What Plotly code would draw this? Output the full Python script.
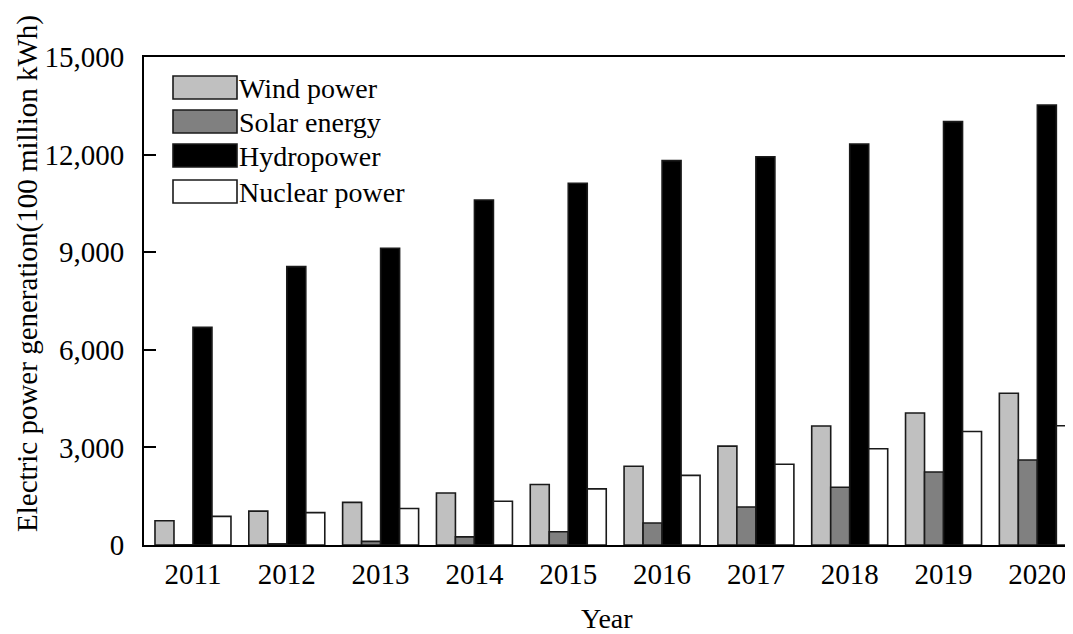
import plotly.graph_objects as go

years = ["2011", "2012", "2013", "2014", "2015", "2016", "2017", "2018", "2019", "2020"]
wind = [745, 1040, 1310, 1600, 1860, 2420, 3040, 3660, 4057, 4665]
solar = [6, 36, 110, 250, 405, 675, 1170, 1775, 2245, 2615]
hydro = [6690, 8556, 9120, 10605, 11120, 11815, 11935, 12325, 13015, 13525]
nuclear = [880, 995, 1120, 1345, 1725, 2140, 2480, 2960, 3490, 3665]

series_names = ["Wind power", "Solar energy", "Hydropower", "Nuclear power"]
series_values = [wind, solar, hydro, nuclear]
series_colors = ["#c0c0c0", "#808080", "#000000", "#ffffff"]

y_ticks = [0, 3000, 6000, 9000, 12000, 15000]

FONT = "Liberation Serif, Times New Roman, serif"

fig = go.Figure()
for name, vals, col in zip(series_names, series_values, series_colors):
    fig.add_trace(go.Bar(
        x=years, y=vals, name=name,
        marker=dict(color=col, line=dict(color="#1a1a1a", width=1.6)),
        showlegend=False,
    ))

# page body margin of 8px shifts the figure; size it so it ends at the window edge
OFF = 8
W, H = 1073 - OFF, 634 - OFF
# plot area in window pixels
PL, PT, PR, PB = 144, 57, 1073, 545
ml, mt = PL - OFF, PT - OFF
mr, mb = (1073 - PR), (634 - PB)
pw = PR - PL
ph = PB - PT

def px_x(px):
    return (px - PL) / pw

def px_y(py):
    return (PB - py) / ph

# manual legend (large swatches as in the reference)
leg_centers = [87.5, 121.5, 155.5, 191.5]
shapes = []
annotations = []
for name, col, cy in zip(series_names, series_colors, leg_centers):
    shapes.append(dict(
        type="rect", xref="paper", yref="paper",
        x0=px_x(173), x1=px_x(237), y0=px_y(cy + 11.5), y1=px_y(cy - 11.5),
        fillcolor=col, line=dict(color="#1a1a1a", width=1.6), layer="above",
    ))
    annotations.append(dict(
        text=name, xref="paper", yref="paper", x=px_x(237), y=px_y(cy + 1),
        xanchor="left", yanchor="middle", showarrow=False,
        font=dict(family=FONT, size=28, color="black"),
    ))

annotations.append(dict(
    text="Electric power generation(100 million kWh)",
    xref="paper", yref="paper", x=px_x(27), y=px_y(274),
    xanchor="center", yanchor="middle", textangle=-90, showarrow=False,
    font=dict(family=FONT, size=29, color="black"),
))
annotations.append(dict(
    text="Year", xref="paper", yref="paper", x=px_x(607), y=px_y(618),
    xanchor="center", yanchor="middle", showarrow=False,
    font=dict(family=FONT, size=28, color="black"),
))

fig.update_layout(
    width=W, height=H,
    margin=dict(l=ml, r=mr, t=mt, b=mb, pad=0),
    paper_bgcolor="white", plot_bgcolor="white",
    barmode="group", bargap=0.19, bargroupgap=0,
    font=dict(family=FONT, size=28, color="black"),
    shapes=shapes, annotations=annotations,
    xaxis=dict(
        type="category", range=[-0.522, 9.38],
        showline=True, linecolor="black", linewidth=2, mirror=True,
        ticks="", showgrid=False, zeroline=False,
        tickfont=dict(family=FONT, size=29, color="black"),
        ticklabelstandoff=2,
    ),
    yaxis=dict(
        range=[0, 15000], tickvals=y_ticks, tickformat=",",
        showline=True, linecolor="black", linewidth=2, mirror=False,
        ticks="inside", ticklen=12, tickwidth=2, tickcolor="black",
        showgrid=False, zeroline=False,
        tickfont=dict(family=FONT, size=29, color="black"),
        ticklabelstandoff=12,
    ),
)

fig.write_html("out.html")
